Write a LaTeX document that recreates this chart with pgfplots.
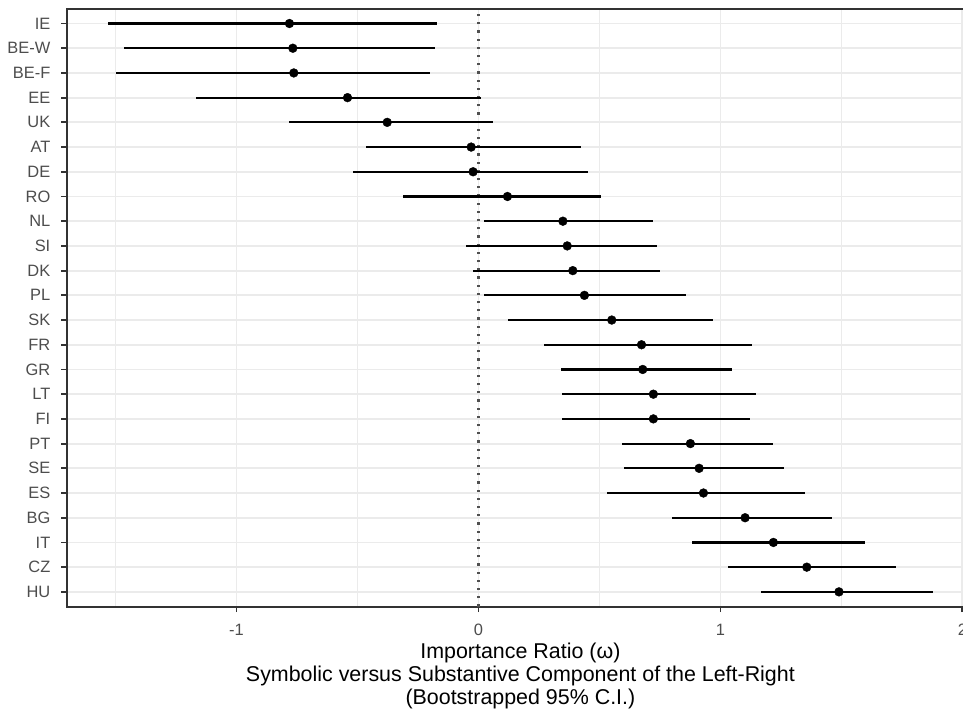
\documentclass[border=0pt]{standalone}
\usepackage{fontspec}
\setmainfont{Liberation Sans}
\usepackage{pgfplots}
\usepackage{pgfplotstable}
\pgfplotsset{compat=1.18}

\definecolor{gridgray}{HTML}{EBEBEB}
\definecolor{framegray}{HTML}{333333}
\definecolor{labelgray}{HTML}{4D4D4D}
\definecolor{refline}{HTML}{505050}

% pos: row position (1 = bottom), lo/hi: 95% bootstrap interval, est: point estimate
\pgfplotstableread{
pos lo est hi
24 -1.531 -0.781 -0.172
23 -1.463 -0.767 -0.180
22 -1.497 -0.763 -0.200
21 -1.169 -0.541 0.011
20 -0.783 -0.377 0.062
19 -0.463 -0.030 0.423
18 -0.517 -0.022 0.452
17 -0.312 0.120 0.506
16 0.021 0.349 0.721
15 -0.050 0.367 0.737
14 -0.021 0.390 0.751
13 0.025 0.438 0.858
12 0.124 0.551 0.969
11 0.273 0.674 1.130
10 0.343 0.679 1.047
9 0.345 0.723 1.148
8 0.346 0.723 1.121
7 0.595 0.876 1.219
6 0.603 0.912 1.264
5 0.533 0.930 1.349
4 0.800 1.102 1.460
3 0.884 1.219 1.599
2 1.031 1.357 1.727
1 1.169 1.490 1.878
}\ratios

\begin{document}
\begin{tikzpicture}[x=1bp,y=1bp]
\useasboundingbox (0,0) rectangle (963,711);
\begin{axis}[
  at={(66.7bp,104.3bp)}, anchor=south west,
  scale only axis, width=907.4bp, height=598bp,
  xmin=-1.7015, xmax=2.0485, ymin=0.4, ymax=24.6,
  axis line style={framegray, line width=1.8bp},
  tick align=outside,
  major tick length=5.5bp,
  minor tick length=0pt,
  tick style={framegray, line width=1.8bp},
  xtick={-1,0,1,2}, xticklabels={-1,0,1,2},
  minor xtick={-1.5,-0.5,0.5,1.5},
  ytick={1,...,24},
  yticklabels={HU,CZ,IT,BG,ES,SE,PT,FI,LT,GR,FR,SK,PL,DK,SI,NL,RO,DE,AT,UK,EE,BE-F,BE-W,IE},
  xtick pos=bottom, ytick pos=left,
  xmajorgrids, xminorgrids, ymajorgrids,
  major grid style={gridgray, line width=1.8bp},
  minor grid style={gridgray, line width=0.9bp},
  ticklabel style={font=\fontsize{16.5}{19}\selectfont, text=labelgray, inner sep=0pt},
  yticklabel style={anchor=east, xshift=-10.7bp},
  xticklabel style={anchor=north, yshift=-11.6bp},
  xlabel={Importance Ratio (ω)\\Symbolic versus Substantive Component of the Left-Right\\(Bootstrapped 95\% C.I.)},
  xlabel style={at={(rel axis cs:0.5,0)}, anchor=north, inner sep=0pt, yshift=-35.6bp,
    align=center, font=\fontsize{21.5}{23.5}\selectfont, text=black},
  clip=false,
]
% reference line at zero
\addplot [refline, line width=2.2bp, dash pattern=on 2.2bp off 6bp]
  coordinates {(0,0.4) (0,24.6)};
% bootstrap intervals
\addplot [draw=none, mark=none,
  error bars/.cd, x dir=both, x explicit, error mark=none,
  error bar style={draw=black, line width=2.2bp}]
  table [x=est, y=pos,
    x error plus expr=\thisrow{hi}-\thisrow{est},
    x error minus expr=\thisrow{est}-\thisrow{lo}] {\ratios};
% point estimates
\addplot [only marks, mark=*, mark size=4.4bp, black]
  table [x=est, y=pos] {\ratios};
\end{axis}
\end{tikzpicture}
\end{document}
